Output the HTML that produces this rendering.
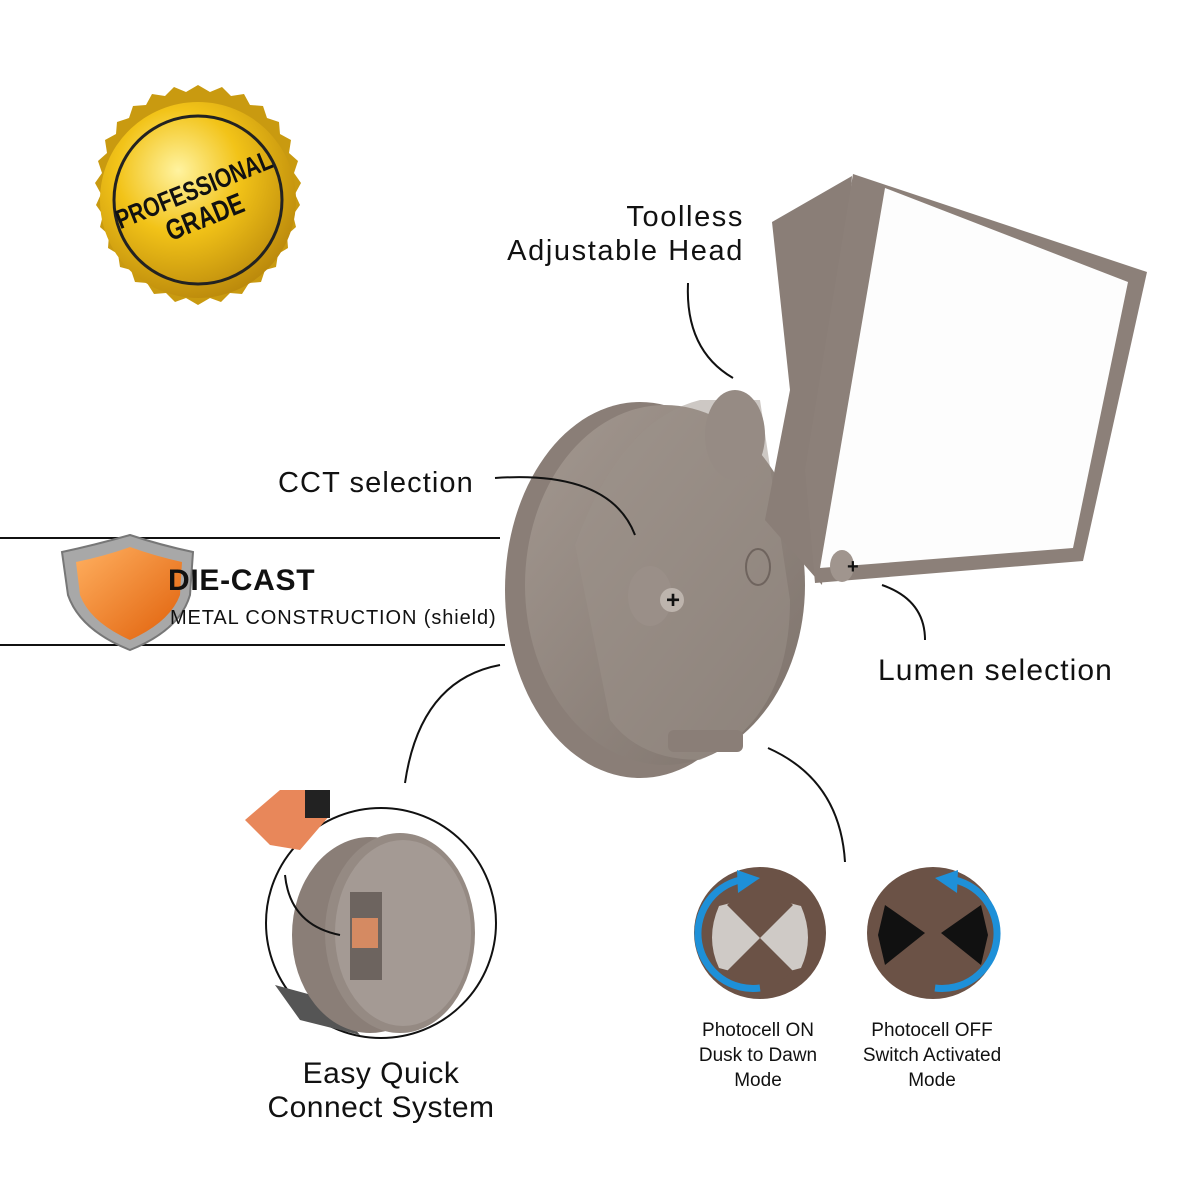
<!DOCTYPE html>
<html><head><meta charset="utf-8"><style>
html,body{margin:0;padding:0;background:#fff;}
svg{display:block;}
text{font-family:"Liberation Sans",sans-serif;fill:#111;}
</style></head><body>
<svg width="1200" height="1200" viewBox="0 0 1200 1200" xmlns="http://www.w3.org/2000/svg">
<defs>
<radialGradient id="gold" cx="40%" cy="35%" r="70%">
<stop offset="0" stop-color="#fff3a0"/><stop offset="0.45" stop-color="#f2c318"/><stop offset="1" stop-color="#b8860b"/>
</radialGradient>
<linearGradient id="body" x1="0" y1="0" x2="1" y2="1">
<stop offset="0" stop-color="#a39890"/><stop offset="1" stop-color="#7d726b"/>
</linearGradient>
<linearGradient id="shield" x1="0" y1="0" x2="1" y2="1">
<stop offset="0" stop-color="#ffb060"/><stop offset="1" stop-color="#e0600a"/>
</linearGradient>
</defs>

<!-- Gold badge -->
<g transform="translate(198,200)">
<polygon fill="#c99a10" points="
0,-115 12,-108 24,-113 33,-104 46,-106 52,-95 65,-94 69,-82 81,-78 82,-66 93,-60 91,-47 100,-39 96,-27 103,-17 97,-6 102,5 95,15 98,27 89,35 90,48 80,54 78,67 67,70 63,82 51,83 44,94 32,93 23,102 12,98 0,105 -12,98 -23,102 -32,93 -44,94 -51,83 -63,82 -67,70 -78,67 -80,54 -90,48 -89,35 -98,27 -95,15 -102,5 -97,-6 -103,-17 -96,-27 -100,-39 -91,-47 -93,-60 -82,-66 -81,-78 -69,-82 -65,-94 -52,-95 -46,-106 -33,-104 -24,-113 -12,-108"/>
<circle r="98" fill="url(#gold)"/>
<circle r="84" fill="none" stroke="#222" stroke-width="3"/>
<g transform="rotate(-22)">
<text x="0" y="-2" text-anchor="middle" font-size="27" font-weight="bold" transform="scale(0.78,1)">PROFESSIONAL</text>
<text x="0" y="28" text-anchor="middle" font-size="29" font-weight="bold" transform="scale(0.78,1)">GRADE</text>
</g>
</g>

<!-- Fixture base -->
<ellipse cx="640" cy="590" rx="135" ry="188" fill="#8a7e77"/>
<ellipse cx="665" cy="585" rx="140" ry="180" fill="url(#body)"/>
<path d="M575,545 Q620,420 700,400 L760,400 L790,600 Q790,720 700,760 Q640,760 610,720 Z" fill="#9c918a" opacity="0.5"/>
<rect x="668" y="730" width="75" height="22" rx="6" fill="#8a7e77"/>
<ellipse cx="735" cy="435" rx="30" ry="45" fill="#968b84"/>
<polygon points="772,222 852,176 822,585 765,520 790,390" fill="#8a7e77"/>
<polygon points="853,174 1147,272 1083,561 815,583 805,470" fill="#8c8079"/>
<polygon points="885,188 1128,282 1073,548 820,568" fill="#fdfdfd"/>
<ellipse cx="650" cy="596" rx="22" ry="30" fill="#9a8f88"/>
<circle cx="672" cy="600" r="12" fill="#bdb4ad"/>
<text x="666" y="608" font-size="24" font-weight="bold">+</text>
<ellipse cx="758" cy="567" rx="12" ry="18" fill="none" stroke="#6f645e" stroke-width="2"/>
<ellipse cx="842" cy="566" rx="12" ry="16" fill="#a0958e"/>
<text x="847" y="573" font-size="20" font-weight="bold">+</text>

<!-- Labels -->
<text x="744" y="226" text-anchor="end" font-size="29" letter-spacing="1.6">Toolless</text>
<text x="744" y="260" text-anchor="end" font-size="29" letter-spacing="1.6">Adjustable Head</text>
<path d="M688,283 Q685,350 733,378" fill="none" stroke="#111" stroke-width="2"/>
<text x="278" y="492" font-size="29" letter-spacing="1.1">CCT selection</text>
<path d="M495,478 Q610,470 635,535" fill="none" stroke="#111" stroke-width="2"/>
<text x="878" y="680" font-size="30" letter-spacing="1.1">Lumen selection</text>
<path d="M882,585 Q925,600 925,640" fill="none" stroke="#111" stroke-width="2"/>

<!-- DIE-CAST -->
<line x1="0" y1="538" x2="500" y2="538" stroke="#111" stroke-width="2"/>
<line x1="0" y1="645" x2="505" y2="645" stroke="#111" stroke-width="2"/>
<path d="M62,552 Q95,545 130,535 Q160,545 193,552 L190,595 Q180,630 130,650 Q80,630 68,595 Z" fill="#a8a8a8" stroke="#777" stroke-width="2"/>
<path d="M76,562 Q105,556 130,547 Q155,556 182,562 L180,595 Q170,622 130,640 Q90,622 80,595 Z" fill="url(#shield)"/>
<text x="168" y="590" font-size="30" font-weight="bold" letter-spacing="0.7">DIE-CAST</text>
<text x="170" y="624" font-size="20" letter-spacing="0.9">METAL CONSTRUCTION (shield)</text>

<!-- Quick connect -->
<path d="M405,783 Q420,680 500,665" fill="none" stroke="#111" stroke-width="2"/>
<circle cx="381" cy="923" r="115" fill="#fff" stroke="#111" stroke-width="2"/>
<path d="M275,985 L330,1000 L360,1035 L300,1020 Z" fill="#555"/>
<ellipse cx="370" cy="935" rx="78" ry="98" fill="#8a7e77"/>
<ellipse cx="400" cy="933" rx="75" ry="100" fill="#958a83"/>
<ellipse cx="403" cy="933" rx="68" ry="93" fill="#a49a94"/>
<rect x="350" y="892" width="32" height="88" fill="#6d645f"/>
<rect x="352" y="918" width="26" height="30" fill="#d58a62"/>
<polygon points="245,820 280,790 320,790 330,815 300,850 270,845" fill="#e8875a"/>
<rect x="305" y="790" width="25" height="28" fill="#222"/>
<path d="M285,875 Q290,925 340,935" fill="none" stroke="#111" stroke-width="2"/>
<text x="381" y="1083" text-anchor="middle" font-size="30" letter-spacing="0.5">Easy Quick</text>
<text x="381" y="1117" text-anchor="middle" font-size="30" letter-spacing="0.5">Connect System</text>

<!-- Photocell -->
<path d="M768,748 Q840,780 845,862" fill="none" stroke="#111" stroke-width="2"/>
<circle cx="760" cy="933" r="66" fill="#6b5246"/>
<path d="M719,906 L750,898 L755,913 L760,938 L750,963 L745,975 L719,968 Q705,938 719,906 Z" fill="#cfcac6"/>
<path d="M801,906 L770,898 L765,913 L760,938 L770,963 L775,975 L801,968 Q815,938 801,906 Z" fill="#cfcac6"/>
<polygon points="760,938 727,905 745,890 775,890 793,905" fill="#6b5246"/>
<polygon points="760,938 727,971 745,986 775,986 793,971" fill="#6b5246"/>
<path d="M760,988 A55,55 0 0 1 740,880" fill="none" stroke="#1e90d8" stroke-width="7"/>
<polygon points="737,870 760,878 738,893" fill="#1e90d8"/>
<circle cx="933" cy="933" r="66" fill="#6b5246"/>
<polygon points="885,905 925,933 885,965 878,935" fill="#111"/>
<polygon points="981,905 941,933 981,965 988,935" fill="#111"/>
<path d="M935,988 A55,55 0 0 0 955,880" fill="none" stroke="#1e90d8" stroke-width="7"/>
<polygon points="958,870 935,878 957,893" fill="#1e90d8"/>
<text x="758" y="1036" text-anchor="middle" font-size="19">Photocell ON</text>
<text x="758" y="1061" text-anchor="middle" font-size="19">Dusk to Dawn</text>
<text x="758" y="1086" text-anchor="middle" font-size="19">Mode</text>
<text x="932" y="1036" text-anchor="middle" font-size="19">Photocell OFF</text>
<text x="932" y="1061" text-anchor="middle" font-size="19">Switch Activated</text>
<text x="932" y="1086" text-anchor="middle" font-size="19">Mode</text>
</svg>
</body></html>
